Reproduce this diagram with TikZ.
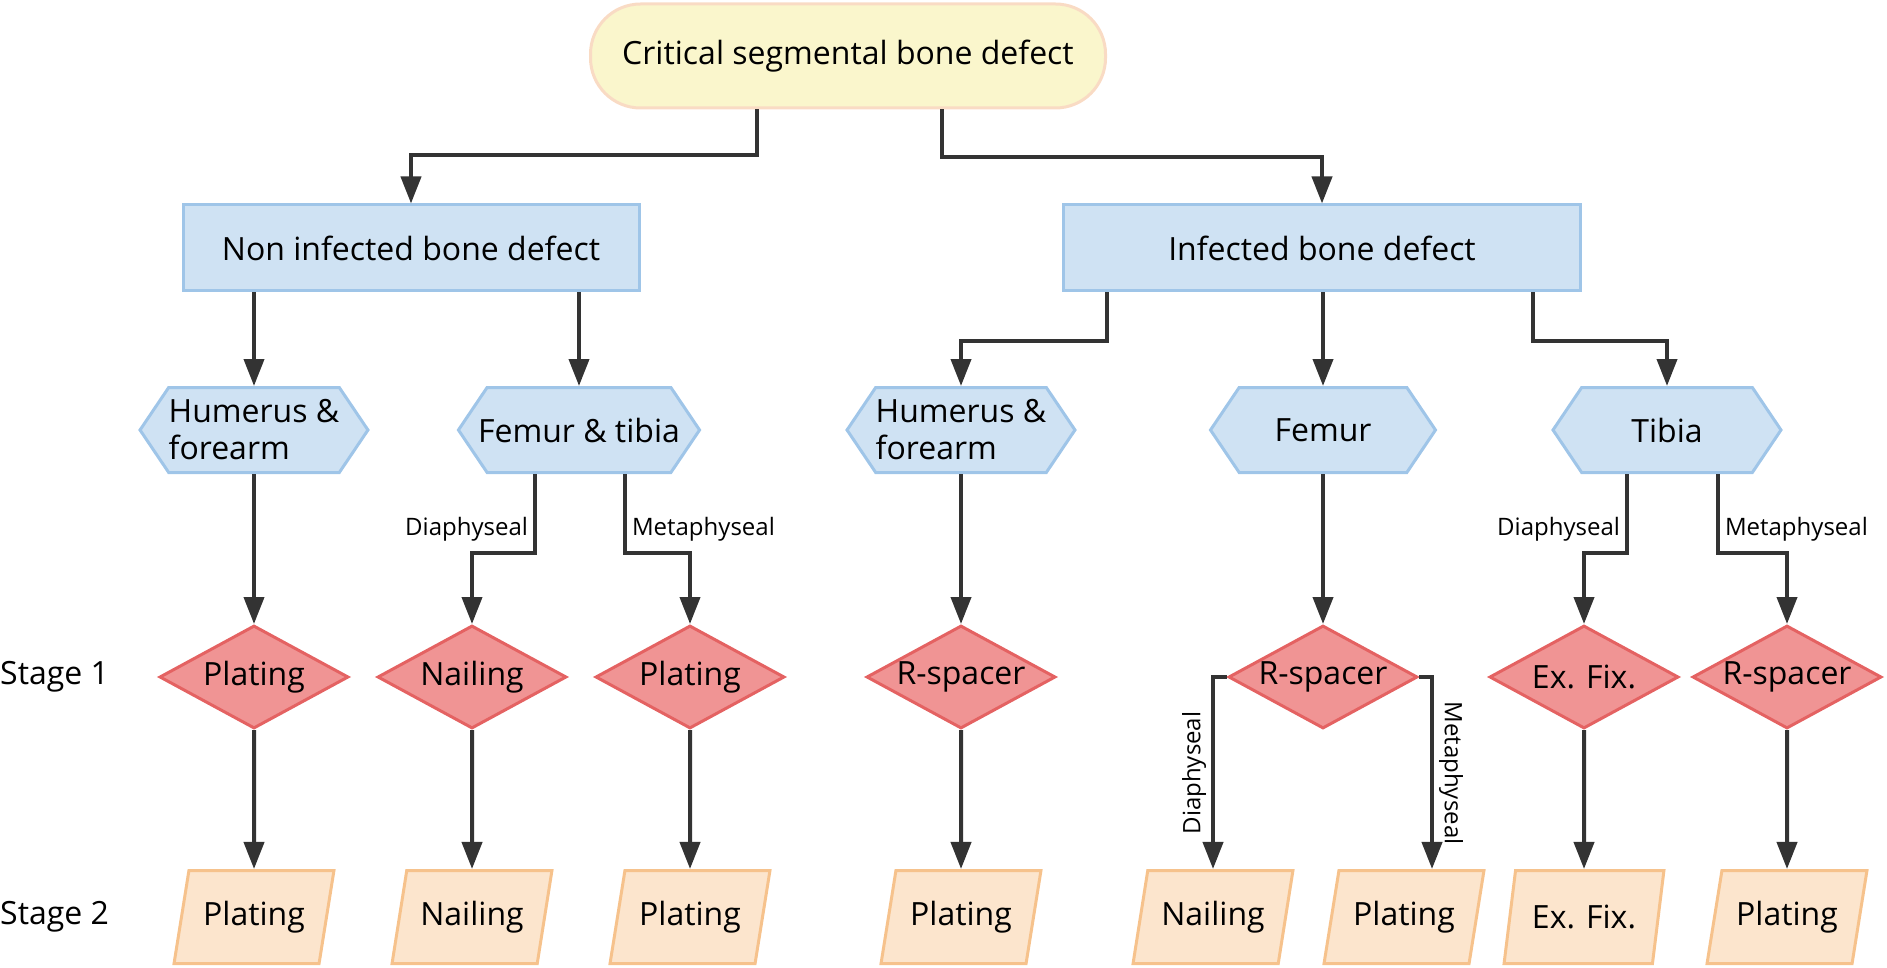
\documentclass[tikz,border=0pt]{standalone}
\usepackage{fontspec}
\setmainfont{Open Sans}
\usepackage{tikz}
\usetikzlibrary{shapes.geometric, shapes.symbols, arrows.meta}

\definecolor{startfill}{RGB}{250,246,204}
\definecolor{startline}{RGB}{249,219,196}
\definecolor{bluefill}{RGB}{207,226,243}
\definecolor{blueline}{RGB}{159,197,232}
\definecolor{redfill}{RGB}{240,148,148}
\definecolor{redline}{RGB}{228,98,98}
\definecolor{orfill}{RGB}{252,229,205}
\definecolor{orline}{RGB}{246,194,140}
\definecolor{arrowgray}{RGB}{51,51,51}

\tikzset{
  startbox/.style={rectangle, rounded corners=50pt, draw=startline, fill=startfill, line width=3pt, minimum width=515pt, minimum height=104pt},
  sitebox/.style={rectangle, draw=blueline, fill=bluefill, line width=3pt, minimum height=86pt},
  bonebox/.style={signal, signal to=west and east, signal pointer angle=112, draw=blueline, fill=bluefill, line width=3pt, minimum width=225pt, minimum height=85pt, align=left, inner sep=0pt},
  stageone/.style={diamond, aspect=1.83, draw=redline, fill=redfill, line width=3pt, minimum width=189pt, minimum height=103pt, inner sep=-4pt},
  stagetwo/.style={trapezium, trapezium left angle=70, trapezium right angle=110, trapezium stretches=true, draw=orline, fill=orfill, line width=3pt, minimum width=160pt, minimum height=93pt, inner sep=0pt},
  arr/.style={draw=arrowgray, line width=4pt, -{Triangle[length=27pt,width=20pt]}},
  branch/.style={font=\fontsize{24}{28}\selectfont, inner sep=5pt},
}

\begin{document}
\begin{tikzpicture}[x=1pt, y=1pt, font=\fontsize{32}{37}\selectfont]
\useasboundingbox (0,0) rectangle (1887,-968);

% top
\node[startbox] (crit) at (848,-56) {Critical segmental bone defect};

% infection status
\node[sitebox, minimum width=456pt] (noninf) at (411,-248) {Non infected bone defect};
\node[sitebox, minimum width=517pt] (inf) at (1322,-248) {Infected bone defect};

% bones
\node[bonebox] (hum1) at (254,-430) {Humerus \&\\forearm};
\node[bonebox, minimum width=233pt, inner xsep=-9pt] (femtib) at (579,-430) {Femur \& tibia};
\node[bonebox] (hum2) at (961,-430) {Humerus \&\\forearm};
\node[bonebox] (fem) at (1323,-430) {Femur};
\node[bonebox, minimum width=228pt] (tib) at (1667,-430) {Tibia};

% stage 1
\node[anchor=west, inner sep=0pt] (st1) at (0,-677) {Stage 1};
\node[stageone] (d1) at (254,-677) {Plating};
\node[stageone] (d2) at (472,-677) {Nailing};
\node[stageone] (d3) at (690,-677) {Plating};
\node[stageone] (d4) at (961,-677) {R-spacer};
\node[stageone] (d5) at (1323,-677) {R-spacer};
\node[stageone] (d6) at (1584,-677) {Ex. Fix.};
\node[stageone] (d7) at (1787,-677) {R-spacer};

% stage 2
\node[anchor=west, inner sep=0pt] (st2) at (0,-917) {Stage 2};
\node[stagetwo] (p1) at (254,-917) {Plating};
\node[stagetwo] (p2) at (472,-917) {Nailing};
\node[stagetwo] (p3) at (690,-917) {Plating};
\node[stagetwo] (p4) at (961,-917) {Plating};
\node[stagetwo] (p5) at (1213,-917) {Nailing};
\node[stagetwo] (p6) at (1404,-917) {Plating};
\node[stagetwo] (p7) at (1584,-917) {Ex. Fix.};
\node[stagetwo] (p8) at (1787,-917) {Plating};

% connectors
\draw[arr] ([xshift=-91pt]crit.south) -- ++(0,-46) -| (noninf.north);
\draw[arr] ([xshift=94pt]crit.south) -- ++(0,-48) -| (inf.north);

\draw[arr] (hum1.north |- noninf.south) -- (hum1.north);
\draw[arr] (femtib.north |- noninf.south) -- (femtib.north);
\draw[arr] ([xshift=-215pt]inf.south) -- ++(0,-48) -| (hum2.north);
\draw[arr] (fem.north |- inf.south) -- (fem.north);
\draw[arr] ([xshift=211pt]inf.south) -- ++(0,-48) -| (tib.north);

\draw[arr] (hum1.south) -- (d1.north);
\draw[arr] ([xshift=-44pt]femtib.south) -- ++(0,-79) node[branch, pos=0.7, left] {Diaphyseal} -| (d2.north);
\draw[arr] ([xshift=46pt]femtib.south) -- ++(0,-79) node[branch, pos=0.7, right] {Metaphyseal} -| (d3.north);
\draw[arr] (hum2.south) -- (d4.north);
\draw[arr] (fem.south) -- (d5.north);
\draw[arr] ([xshift=-40pt]tib.south) -- ++(0,-79) node[branch, pos=0.7, left] {Diaphyseal} -| (d6.north);
\draw[arr] ([xshift=51pt]tib.south) -- ++(0,-79) node[branch, pos=0.7, right] {Metaphyseal} -| (d7.north);

\draw[arr] (d1.south) -- (p1.north);
\draw[arr] (d2.south) -- (p2.north);
\draw[arr] (d3.south) -- (p3.north);
\draw[arr] (d4.south) -- (p4.north);
\draw[arr] (d5.west) -| node[branch, pos=0.75, rotate=90, anchor=south] {Diaphyseal} (p5.north);
\draw[arr] (d5.east) -| node[branch, pos=0.75, rotate=-90, anchor=south] {Metaphyseal} ([xshift=28pt]p6.north);
\draw[arr] (d6.south) -- (p7.north);
\draw[arr] (d7.south) -- (p8.north);
\end{tikzpicture}
\end{document}
